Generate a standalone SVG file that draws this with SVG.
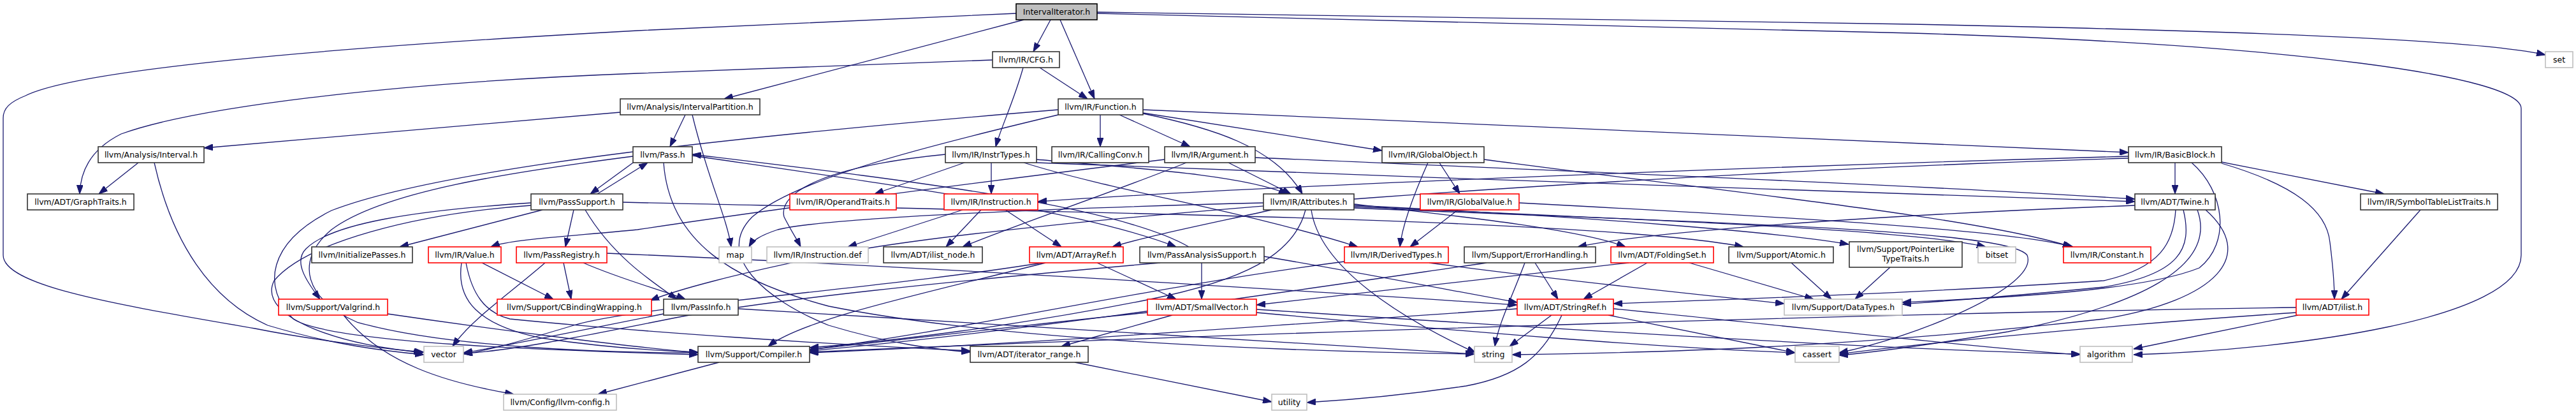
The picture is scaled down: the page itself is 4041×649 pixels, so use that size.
<svg xmlns="http://www.w3.org/2000/svg" width="4041" height="649" viewBox="0 0 4041 649">
<style>
.n rect{fill:#fff;stroke:#333;stroke-width:1.6}
.r rect{fill:#fff;stroke:#ff0000;stroke-width:1.6}
.g rect{fill:#fff;stroke:#bfbfbf;stroke-width:1.6}
.root rect{fill:#bfbfbf;stroke:#000;stroke-width:1.6}
text{font-family:"DejaVu Sans","Liberation Sans",sans-serif;font-size:12.5px;text-anchor:middle;fill:#000}
#edges path{fill:none;stroke:#191970;stroke-width:1.3;marker-end:url(#a)}
</style>
<defs>
<marker id="a" markerWidth="14" markerHeight="10" refX="14" refY="5" orient="auto" markerUnits="userSpaceOnUse"><path d="M0,0 L14,5 L0,10 Z" fill="#191970" stroke="#191970" stroke-width="1"/></marker>
</defs>
<rect x="0" y="0" width="4041" height="649" fill="#fff"/>
<g id="edges">
<path d="M1606,31 L1136,155"/>
<path d="M1648,31 L1621,81"/>
<path d="M1663,31 L1717,155"/>
<path d="M1594,21 L1000,48 C500,75 120,110 40,150 C15,160 5,170 5,185 L5,400 C5,450 200,480 400,515 C500,535 600,545 663,553"/>
<path d="M1721,19 L3000,38 C3600,50 3900,65 3993,86"/>
<path d="M1721,21 L3000,52 C3600,70 3955,120 3955,170 L3955,400 C3955,500 3600,548 3347,556"/>
<path d="M1557,94 L1000,115 C600,130 300,170 190,210 C140,235 126,270 125,304"/>
<path d="M1631,106 L1706,155"/>
<path d="M1605,106 C1590,160 1570,200 1562,230"/>
<path d="M973,176 L320,232"/>
<path d="M1075,180 L1051,230"/>
<path d="M1086,180 C1110,280 1140,340 1147,387"/>
<path d="M1756,180 L1867,230"/>
<path d="M1726,180 L1726,230"/>
<path d="M1793,178 C1900,200 2000,230 2043,304"/>
<path d="M1793,177 L2168,236"/>
<path d="M1793,172 C2400,200 3000,225 3339,239"/>
<path d="M1660,172 C1200,210 700,260 520,330 C420,380 410,450 460,500 C520,540 900,550 1095,556"/>
<path d="M1660,180 C1450,230 1250,280 1180,340 C1120,400 1200,470 1300,510 C1400,540 1470,548 1522,552"/>
<path d="M217,255 L155,304"/>
<path d="M242,255 C270,380 330,470 420,510 C520,540 600,550 665,556"/>
<path d="M1000,250 L926,304"/>
<path d="M937,304 L1016,255"/>
<path d="M1086,244 C1400,290 1700,330 1845,387"/>
<path d="M1865,387 C1750,320 1400,280 1086,242"/>
<path d="M1041,255 C1050,380 1150,440 1300,480 C1600,540 2100,552 2313,555"/>
<path d="M993,245 C800,270 600,300 520,360 C460,410 480,470 560,505 C700,545 950,553 1095,553"/>
<path d="M851,329 L627,387"/>
<path d="M900,329 L887,387"/>
<path d="M918,329 C960,400 1020,440 1062,469"/>
<path d="M833,318 C650,330 520,350 480,390 C460,410 480,440 502,469"/>
<path d="M833,322 C650,335 480,380 430,440 C400,500 550,545 665,552"/>
<path d="M977,317 C1500,330 2500,340 2735,387"/>
<path d="M1513,255 L1372,304"/>
<path d="M1555,255 L1555,304"/>
<path d="M1626,250 C1800,265 1950,275 2020,304"/>
<path d="M1606,255 C1750,300 1950,330 2130,387"/>
<path d="M1483,242 C1300,260 1220,300 1230,340 C1240,360 1250,375 1256,387"/>
<path d="M1626,255 C2200,280 3000,300 3349,316"/>
<path d="M1927,255 L2025,304"/>
<path d="M1861,255 C1750,300 1600,350 1510,387"/>
<path d="M1827,250 C1500,290 1200,330 1000,360 C900,370 800,375 770,387"/>
<path d="M1969,247 C2500,270 3000,290 3349,312"/>
<path d="M2240,255 C2220,300 2200,350 2196,387"/>
<path d="M2258,255 L2290,304"/>
<path d="M2328,250 C2700,300 3100,340 3250,387"/>
<path d="M3412,255 L3412,304"/>
<path d="M3485,254 L3740,304"/>
<path d="M3485,256 C3600,290 3650,330 3655,380 C3660,420 3662,450 3662,469"/>
<path d="M3339,245 C2800,260 2000,290 1628,316"/>
<path d="M3339,248 C2600,270 1600,340 1300,400 C1150,430 1060,455 1020,471"/>
<path d="M3438,255 C3490,300 3500,380 3450,420 C3350,460 3100,468 2984,474"/>
<path d="M3797,329 L3673,469"/>
<path d="M1510,329 L1330,387"/>
<path d="M1539,329 L1484,387"/>
<path d="M1577,329 L1665,387"/>
<path d="M1982,318 C1700,325 1300,340 1220,360 C1190,370 1180,378 1175,387"/>
<path d="M1995,329 C1900,350 1800,370 1745,387"/>
<path d="M2124,320 C2300,340 2480,360 2550,387"/>
<path d="M2124,322 C2500,340 2800,365 2900,383"/>
<path d="M2124,324 C2600,345 3000,360 3115,387"/>
<path d="M2124,326 C2700,350 3150,360 3180,400 C3200,450 3000,530 2885,553"/>
<path d="M2057,329 C2070,420 2200,500 2315,553"/>
<path d="M2048,329 C2030,400 1950,440 1800,470 C1600,510 1400,535 1270,545"/>
<path d="M2287,329 L2212,387"/>
<path d="M2383,318 C2800,340 3150,360 3252,387"/>
<path d="M3413,329 C3410,380 3390,420 3300,440 C3000,460 2700,470 2531,476"/>
<path d="M3425,329 C3440,390 3420,430 3300,450 C3150,465 3050,472 2984,477"/>
<path d="M3349,322 C3000,335 2600,360 2475,387"/>
<path d="M3447,329 C3480,420 3350,480 3150,520 C3000,545 2930,553 2885,557"/>
<path d="M3460,329 C3540,400 3480,470 3300,500 C2900,545 2600,553 2372,556"/>
<path d="M2965,419 L2910,469"/>
<path d="M2810,412 L2873,469"/>
<path d="M2650,412 L2845,469"/>
<path d="M2242,412 C2450,440 2650,460 2799,476"/>
<path d="M2392,412 C2370,470 2350,510 2345,543"/>
<path d="M2408,412 L2444,469"/>
<path d="M2332,412 C2000,460 1600,520 1270,550"/>
<path d="M2584,412 L2484,469"/>
<path d="M2555,412 C2300,440 2100,465 1971,478"/>
<path d="M2434,494 L2368,543"/>
<path d="M2450,494 C2420,560 2380,590 2300,605 C2200,620 2100,628 2050,631"/>
<path d="M2523,494 L2816,553"/>
<path d="M2531,484 C2800,510 3100,545 3263,556"/>
<path d="M2380,484 C2000,510 1600,540 1270,553"/>
<path d="M952,397 C1500,420 2100,460 2380,478"/>
<path d="M1983,402 C2150,430 2300,460 2380,474"/>
<path d="M1839,494 L1665,543"/>
<path d="M1800,490 C1600,510 1400,535 1270,548"/>
<path d="M1971,485 C2500,520 3000,550 3263,555"/>
<path d="M1971,490 C2300,520 2600,545 2816,553"/>
<path d="M1721,412 L1845,469"/>
<path d="M1635,412 C1400,450 1000,480 900,510 C800,540 760,550 727,555"/>
<path d="M1640,412 C1450,460 1260,500 1205,543"/>
<path d="M1885,412 L1885,469"/>
<path d="M1820,412 C1500,440 1200,470 1050,500 C900,530 800,550 727,554"/>
<path d="M855,412 C800,460 740,500 710,543"/>
<path d="M884,412 L896,469"/>
<path d="M915,412 C980,440 1040,455 1075,469"/>
<path d="M756,412 L868,469"/>
<path d="M724,412 C715,470 750,510 850,530 C950,545 1030,550 1095,552"/>
<path d="M731,412 C740,460 760,490 800,500 C1000,520 1300,540 1522,550"/>
<path d="M539,494 C600,570 700,600 806,618"/>
<path d="M608,492 C800,520 1000,545 1095,553"/>
<path d="M1041,492 C900,520 780,545 727,553"/>
<path d="M1158,484 C1600,510 2100,545 2313,555"/>
<path d="M1128,568 L938,618"/>
<path d="M1686,568 L1995,630"/>
<path d="M3602,482 C3000,490 2000,520 1270,552"/>
<path d="M3605,494 L3347,547"/>
<path d="M3602,490 C3300,510 3000,540 2885,555"/>
<path d="M2109,410 C1800,450 1500,520 1270,548"/>
</g>
<g id="IntervalIterator" class="root"><rect x="1594" y="6" width="127" height="25"/><text x="1657.5" y="23">IntervalIterator.h</text></g>
<g id="CFG" class="n"><rect x="1557" y="81" width="105" height="25"/><text x="1609.5" y="98">llvm/IR/CFG.h</text></g>
<g id="set" class="g"><rect x="3993" y="81" width="43" height="25"/><text x="4014.5" y="98">set</text></g>
<g id="IntervalPartition" class="n"><rect x="973" y="155" width="219" height="25"/><text x="1082.5" y="172">llvm/Analysis/IntervalPartition.h</text></g>
<g id="Function" class="n"><rect x="1660" y="155" width="133" height="25"/><text x="1726.5" y="172">llvm/IR/Function.h</text></g>
<g id="Interval" class="n"><rect x="154" y="230" width="166" height="25"/><text x="237" y="247">llvm/Analysis/Interval.h</text></g>
<g id="Pass" class="n"><rect x="993" y="230" width="93" height="25"/><text x="1039.5" y="247">llvm/Pass.h</text></g>
<g id="InstrTypes" class="n"><rect x="1483" y="230" width="143" height="25"/><text x="1554.5" y="247">llvm/IR/InstrTypes.h</text></g>
<g id="CallingConv" class="n"><rect x="1650" y="230" width="152" height="25"/><text x="1726" y="247">llvm/IR/CallingConv.h</text></g>
<g id="Argument" class="n"><rect x="1827" y="230" width="142" height="25"/><text x="1898" y="247">llvm/IR/Argument.h</text></g>
<g id="GlobalObject" class="n"><rect x="2168" y="230" width="160" height="25"/><text x="2248" y="247">llvm/IR/GlobalObject.h</text></g>
<g id="BasicBlock" class="n"><rect x="3339" y="230" width="146" height="25"/><text x="3412" y="247">llvm/IR/BasicBlock.h</text></g>
<g id="GraphTraits" class="n"><rect x="43" y="304" width="167" height="25"/><text x="126.5" y="321">llvm/ADT/GraphTraits.h</text></g>
<g id="PassSupport" class="n"><rect x="833" y="304" width="144" height="25"/><text x="905" y="321">llvm/PassSupport.h</text></g>
<g id="OperandTraits" class="r"><rect x="1239" y="304" width="167" height="25"/><text x="1322.5" y="321">llvm/IR/OperandTraits.h</text></g>
<g id="Instruction" class="r"><rect x="1481" y="304" width="147" height="25"/><text x="1554.5" y="321">llvm/IR/Instruction.h</text></g>
<g id="Attributes" class="n"><rect x="1982" y="304" width="142" height="25"/><text x="2053" y="321">llvm/IR/Attributes.h</text></g>
<g id="GlobalValue" class="r"><rect x="2228" y="304" width="155" height="25"/><text x="2305.5" y="321">llvm/IR/GlobalValue.h</text></g>
<g id="Twine" class="n"><rect x="3349" y="304" width="126" height="25"/><text x="3412" y="321">llvm/ADT/Twine.h</text></g>
<g id="SymbolTableListTraits" class="n"><rect x="3703" y="304" width="215" height="25"/><text x="3810.5" y="321">llvm/IR/SymbolTableListTraits.h</text></g>
<g id="InitializePasses" class="n"><rect x="489" y="387" width="158" height="25"/><text x="568" y="404">llvm/InitializePasses.h</text></g>
<g id="Value" class="r"><rect x="672" y="387" width="114" height="25"/><text x="729" y="404">llvm/IR/Value.h</text></g>
<g id="PassRegistry" class="r"><rect x="810" y="387" width="142" height="25"/><text x="881" y="404">llvm/PassRegistry.h</text></g>
<g id="map" class="g"><rect x="1128" y="387" width="51" height="25"/><text x="1153.5" y="404">map</text></g>
<g id="InstructionDef" class="g"><rect x="1203" y="387" width="159" height="25"/><text x="1282.5" y="404">llvm/IR/Instruction.def</text></g>
<g id="ilist_node" class="n"><rect x="1386" y="387" width="155" height="25"/><text x="1463.5" y="404">llvm/ADT/ilist_node.h</text></g>
<g id="ArrayRef" class="r"><rect x="1615" y="387" width="147" height="25"/><text x="1688.5" y="404">llvm/ADT/ArrayRef.h</text></g>
<g id="PassAnalysisSupport" class="n"><rect x="1788" y="387" width="195" height="25"/><text x="1885.5" y="404">llvm/PassAnalysisSupport.h</text></g>
<g id="DerivedTypes" class="r"><rect x="2109" y="387" width="163" height="25"/><text x="2190.5" y="404">llvm/IR/DerivedTypes.h</text></g>
<g id="ErrorHandling" class="n"><rect x="2297" y="387" width="206" height="25"/><text x="2400" y="404">llvm/Support/ErrorHandling.h</text></g>
<g id="FoldingSet" class="r"><rect x="2527" y="387" width="161" height="25"/><text x="2607.5" y="404">llvm/ADT/FoldingSet.h</text></g>
<g id="Atomic" class="n"><rect x="2712" y="387" width="164" height="25"/><text x="2794" y="404">llvm/Support/Atomic.h</text></g>
<g id="PointerLikeTypeTraits" class="n"><rect x="2901" y="379" width="177" height="40"/><text x="2989.5" y="395">llvm/Support/PointerLike</text><text x="2989.5" y="410">TypeTraits.h</text></g>
<g id="bitset" class="g"><rect x="3103" y="387" width="59" height="25"/><text x="3132.5" y="404">bitset</text></g>
<g id="Constant" class="r"><rect x="3237" y="387" width="137" height="25"/><text x="3305.5" y="404">llvm/IR/Constant.h</text></g>
<g id="Valgrind" class="r"><rect x="437" y="469" width="171" height="25"/><text x="522.5" y="486">llvm/Support/Valgrind.h</text></g>
<g id="CBindingWrapping" class="r"><rect x="780" y="469" width="242" height="25"/><text x="901" y="486">llvm/Support/CBindingWrapping.h</text></g>
<g id="PassInfo" class="n"><rect x="1041" y="469" width="117" height="25"/><text x="1099.5" y="486">llvm/PassInfo.h</text></g>
<g id="SmallVector" class="r"><rect x="1800" y="469" width="171" height="25"/><text x="1885.5" y="486">llvm/ADT/SmallVector.h</text></g>
<g id="StringRef" class="r"><rect x="2380" y="469" width="151" height="25"/><text x="2455.5" y="486">llvm/ADT/StringRef.h</text></g>
<g id="DataTypes" class="g"><rect x="2799" y="469" width="185" height="25"/><text x="2891.5" y="486">llvm/Support/DataTypes.h</text></g>
<g id="ilist" class="r"><rect x="3602" y="469" width="114" height="25"/><text x="3659" y="486">llvm/ADT/ilist.h</text></g>
<g id="vector" class="g"><rect x="665" y="543" width="62" height="25"/><text x="696" y="560">vector</text></g>
<g id="Compiler" class="n"><rect x="1095" y="543" width="175" height="25"/><text x="1182.5" y="560">llvm/Support/Compiler.h</text></g>
<g id="iterator_range" class="n"><rect x="1522" y="543" width="185" height="25"/><text x="1614.5" y="560">llvm/ADT/iterator_range.h</text></g>
<g id="string" class="g"><rect x="2313" y="543" width="59" height="25"/><text x="2342.5" y="560">string</text></g>
<g id="cassert" class="g"><rect x="2816" y="543" width="69" height="25"/><text x="2850.5" y="560">cassert</text></g>
<g id="algorithm" class="g"><rect x="3263" y="543" width="82" height="25"/><text x="3304" y="560">algorithm</text></g>
<g id="llvmconfig" class="g"><rect x="790" y="618" width="177" height="25"/><text x="878.5" y="635">llvm/Config/llvm-config.h</text></g>
<g id="utility" class="g"><rect x="1995" y="618" width="55" height="25"/><text x="2022.5" y="635">utility</text></g>
</svg>
